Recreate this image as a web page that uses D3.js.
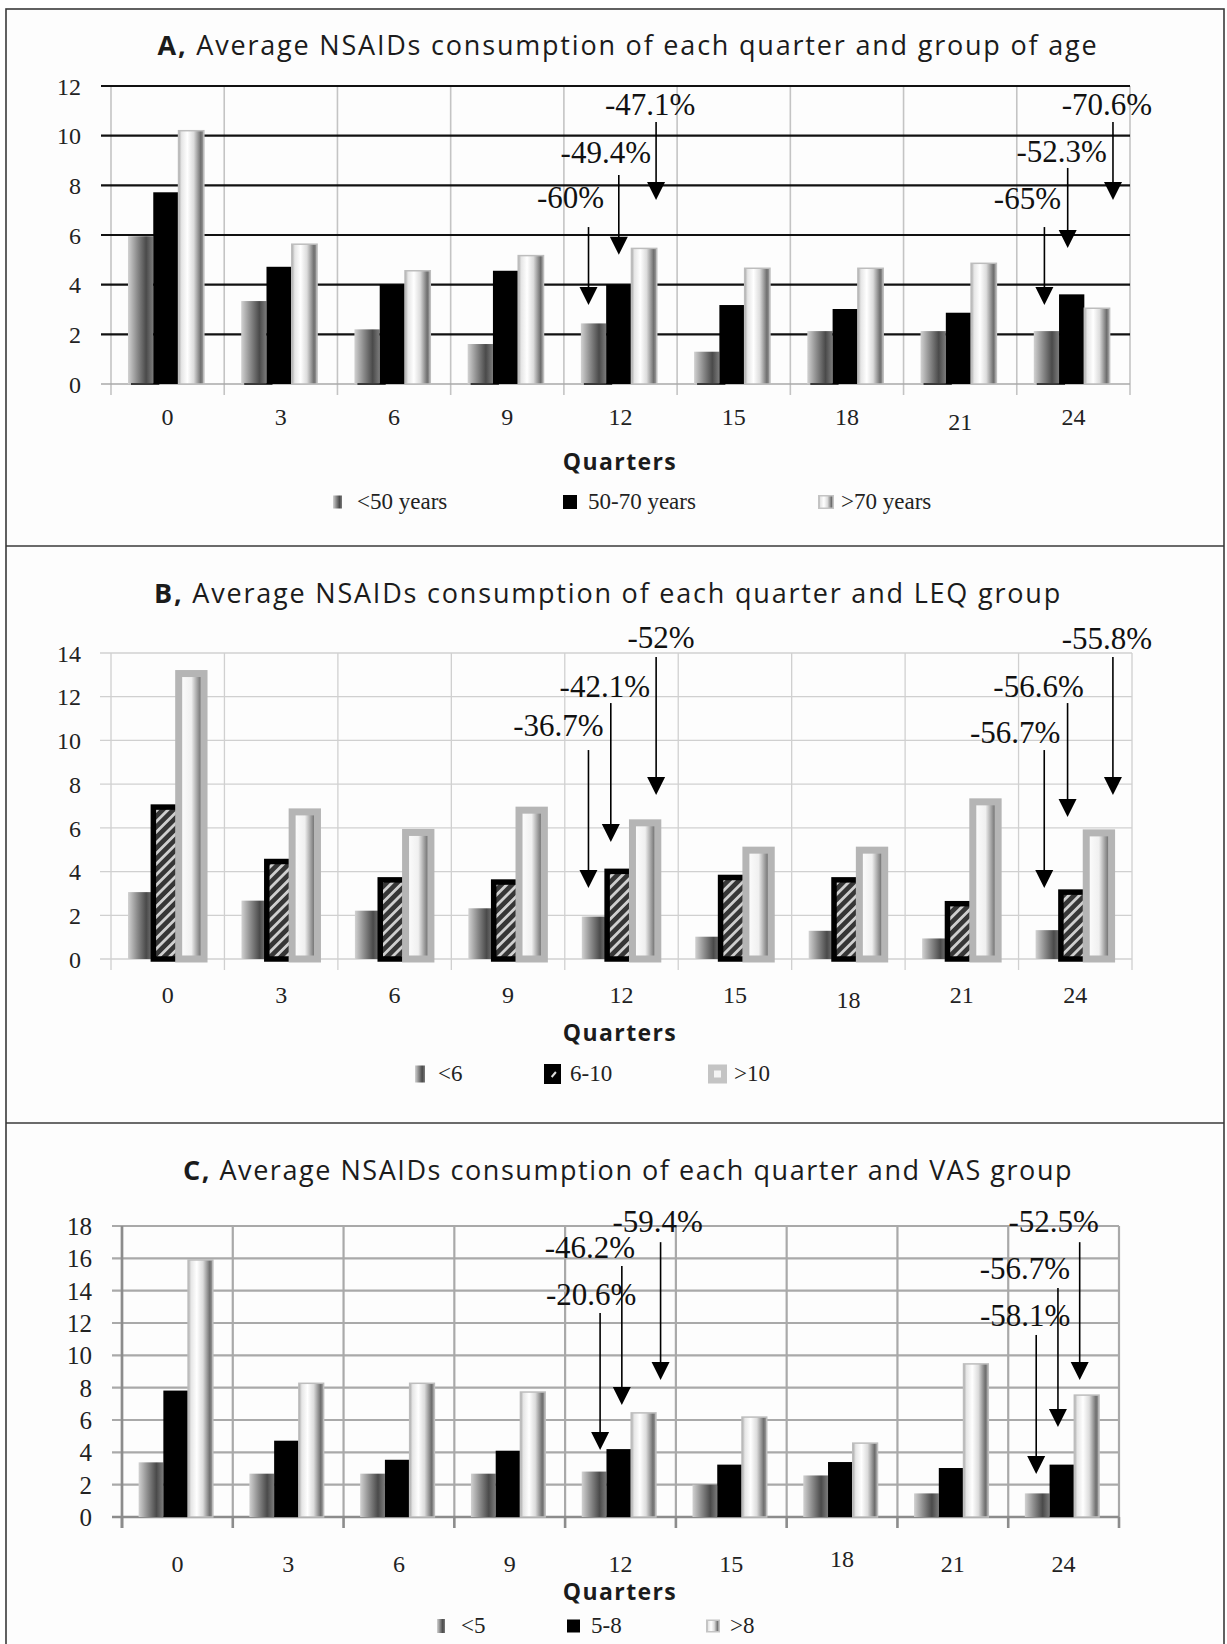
<!DOCTYPE html>
<html><head><meta charset="utf-8">
<script src="https://cdn.jsdelivr.net/npm/d3@7"></script>
<style>
html,body{margin:0;padding:0;background:#fff;}
svg{display:block;}
</style></head>
<body>
<svg id="chart" width="1227" height="1644"></svg>
<script>
// ---------------- data ----------------
const quarters = ["0","3","6","9","12","15","18","21","24"];

const ageLabels  = ["<50 years","50-70 years",">70 years"];
const ageUnder50 = [5.95,3.34,2.20,1.61,2.44,1.30,2.13,2.13,2.13];
const age50to70  = [7.72,4.72,4.01,4.56,4.01,3.18,3.02,2.87,3.61];
const ageOver70  = [10.20,5.63,4.56,5.17,5.46,4.66,4.66,4.86,3.05];
const ageTicks   = [0,2,4,6,8,10,12];
const ageNotes   = ["-60%","-49.4%","-47.1%","-65%","-52.3%","-70.6%"];

const leqLabels = ["<6","6-10",">10"];
const leqUnder6 = [3.06,2.67,2.21,2.32,1.94,1.02,1.29,0.94,1.32];
const leq6to10  = [6.95,4.46,3.62,3.52,4.01,3.73,3.62,2.53,3.06];
const leqOver10 = [13.06,6.73,5.79,6.81,6.23,4.98,4.98,7.19,5.77];
const leqTicks  = [0,2,4,6,8,10,12,14];
const leqNotes  = ["-36.7%","-42.1%","-52%","-56.7%","-56.6%","-55.8%"];

const vasLabels = ["<5","5-8",">8"];
const vasUnder5 = [3.38,2.68,2.68,2.68,2.81,2.00,2.57,1.46,1.46];
const vas5to8   = [7.82,4.72,3.54,4.10,4.20,3.24,3.40,3.03,3.24];
const vasOver8  = [15.90,8.27,8.27,7.73,6.44,6.18,4.57,9.47,7.54];
const vasTicks  = [0,2,4,6,8,10,12,14,16,18];
const vasNotes  = ["-20.6%","-46.2%","-59.4%","-58.1%","-56.7%","-52.5%"];

const noteQuarter = ["12","12","12","24","24","24"];
const noteSeries  = [0,1,2,0,1,2];

// ---------------- layout ----------------
const svg = d3.select("#chart");
const defs = svg.append("defs");

function linGrad(id, stops){
  const g = defs.append("linearGradient").attr("id", id)
    .attr("x1","0").attr("x2","1").attr("y1","0").attr("y2","0");
  stops.forEach(s => g.append("stop").attr("offset", s[0]).attr("stop-color", s[1]));
}
linGrad("gGray",   [[0,"#d2d2d2"],[0.35,"#8e8e8e"],[0.72,"#4a4a4a"],[1,"#7c7c7c"]]);
linGrad("gSilver", [[0,"#a8a8a8"],[0.12,"#e6e6e6"],[0.35,"#ffffff"],[0.6,"#dcdcdc"],[0.88,"#6e6e6e"],[1,"#a2a2a2"]]);
linGrad("gSilverB",[[0,"#ffffff"],[0.5,"#f0f0f0"],[0.85,"#7a7a7a"],[1,"#4e4e4e"]]);
const hatch = defs.append("pattern").attr("id","hatch").attr("patternUnits","userSpaceOnUse")
  .attr("width",7.5).attr("height",7.5).attr("patternTransform","rotate(45)");
hatch.append("rect").attr("width",7.5).attr("height",7.5).attr("fill","#363636");
hatch.append("rect").attr("width",2.8).attr("height",7.5).attr("fill","#cfcfcf");

// frame
svg.append("rect").attr("x",6).attr("y",9).attr("width",1218).attr("height",1660)
  .attr("fill","#fdfdfd").attr("stroke","#3a3a3a").attr("stroke-width",1.6);
[546,1123].forEach(y => svg.append("line").attr("x1",6).attr("x2",1224).attr("y1",y).attr("y2",y)
  .attr("stroke","#3a3a3a").attr("stroke-width",1.6));

const SERIF = "'Liberation Serif','Times New Roman',serif";
const SANS  = "'Open Sans','Noto Sans',sans-serif";

const panels = [
 { letter:"A,", title:" Average NSAIDs consumption of each quarter and group of age", titleX:628, titleY:55, titleLS:1.8,
   left:111, right:1130, top:86, bottom:384, max:12, ticks:ageTicks,
   series:[ageUnder50, age50to70, ageOver70], labels:ageLabels, notes:ageNotes, style:"A",
   yLabelX:81, tickLeft:101, xLabelY:425, xShift:{"21":5}, quartersY:470, legendY:509,
   legSwX:[333,563,818], legTxX:[357,588,841], legSw:[[9,13],[14,14],[16,14]],
   geom:[[-5,-18,7.49,6.32,3.18],[0,-13,9.30,8.42,5.20],[12,-6,11.24,10.55,7.41],
         [-2,-17,7.45,6.32,3.18],[-4,-6,9.34,8.70,5.48],[16,-6,11.24,10.55,7.41]] },
 { letter:"B,", title:" Average NSAIDs consumption of each quarter and LEQ group", titleX:608, titleY:603, titleLS:1.8,
   left:111, right:1132, top:653, bottom:959, max:14, ticks:leqTicks,
   series:[leqUnder6, leq6to10, leqOver10], labels:leqLabels, notes:leqNotes, style:"B",
   yLabelX:81, tickLeft:100, xLabelY:1003, xShift:{"18":5}, quartersY:1041, legendY:1081,
   legSwX:[415,544,708], legTxX:[438,570,734], legSw:[[10,17],[17,20],[19,19]],
   geom:[[-6,-30,10.66,9.56,3.25],[-9,-6,12.44,11.71,5.35],[11,5,14.68,13.82,7.50],
         [-4,-29,10.34,9.56,3.25],[-6,-29,12.44,11.71,6.50],[14,-6,14.64,13.82,7.50]] },
 { letter:"C,", title:" Average NSAIDs consumption of each quarter and VAS group", titleX:628, titleY:1180, titleLS:1.55,
   left:122, right:1119, top:1226, bottom:1517, max:18, ticks:vasTicks,
   series:[vasUnder5, vas5to8, vasOver8], labels:vasLabels, notes:vasNotes, style:"C",
   yLabelX:92, tickLeft:112, xLabelY:1572, xShift:{"18":-5}, quartersY:1600, legendY:1633,
   legSwX:[437,567,706], legTxX:[461,591,730], legSw:[[8,14],[13,13],[14,13]],
   geom:[[6,-9,13.73,12.62,4.14],[3,-32,16.64,15.52,6.93],[17,-3,18.24,17.00,8.47],
         [-1,-11,12.43,11.26,2.66],[-4,-33,15.34,14.16,5.57],[-7,-26,18.24,17.00,8.47]] }
];

panels.forEach(p => {
  const g = svg.append("g");
  const x0 = d3.scaleBand().domain(quarters).range([p.left, p.right]).padding(0);
  const bw = x0.bandwidth();
  const x1 = d3.scaleBand().domain([0,1,2]).range([0.15*bw, 0.82*bw]).padding(0);
  const y = d3.scaleLinear().domain([0, p.max]).range([p.bottom, p.top]);

  // title
  const t = g.append("text").attr("x", p.titleX).attr("y", p.titleY).attr("text-anchor","middle")
    .attr("font-family", SANS).attr("font-size", 27).attr("letter-spacing", p.titleLS + "px").attr("fill","#1b1b1b");
  t.append("tspan").attr("font-weight","bold").text(p.letter);
  t.append("tspan").text(p.title);

  // grid
  const boundaries = quarters.map(q => x0(q)).concat([p.right]);
  let hCol, hW, vCol, vW;
  if (p.style === "A") { hCol="#111"; hW=2.2; vCol="#c4c4c4"; vW=1.6; }
  else if (p.style === "B") { hCol="#d0d0d0"; hW=1.3; vCol="#d0d0d0"; vW=1.3; }
  else { hCol="#a9a9a9"; hW=2.2; vCol="#a9a9a9"; vW=2.2; }

  g.selectAll(".vg").data(boundaries).join("line")
    .attr("x1", d => d).attr("x2", d => d)
    .attr("y1", p.top).attr("y2", p.style === "C" ? p.bottom : p.bottom + 11)
    .attr("stroke", vCol).attr("stroke-width", vW);
  g.selectAll(".hg").data(p.ticks).join("line")
    .attr("x1", p.tickLeft).attr("x2", p.right)
    .attr("y1", d => y(d)).attr("y2", d => y(d))
    .attr("stroke", d => (d === 0 && p.style === "A") ? "#a8a8a8" : hCol)
    .attr("stroke-width", d => (d === 0 && p.style === "A") ? 1.6 : hW);

  if (p.style === "C") {
    g.append("line").attr("x1", p.left).attr("x2", p.left).attr("y1", p.top).attr("y2", p.bottom+11)
      .attr("stroke","#8c8c8c").attr("stroke-width",2.6);
    g.append("line").attr("x1", p.tickLeft).attr("x2", p.right).attr("y1", p.bottom).attr("y2", p.bottom)
      .attr("stroke","#8c8c8c").attr("stroke-width",2.6);
    g.selectAll(".xt").data(boundaries).join("line")
      .attr("x1", d => d).attr("x2", d => d).attr("y1", p.bottom).attr("y2", p.bottom + 11)
      .attr("stroke","#8c8c8c").attr("stroke-width",2.6);
  }

  // bars
  p.series.forEach((arr, si) => {
    const bars = g.selectAll(".b"+si).data(arr).join("rect")
      .attr("x", (d,i) => x0(quarters[i]) + x1(si))
      .attr("width", x1.bandwidth())
      .attr("y", d => y(d))
      .attr("height", d => y(0) - y(d));
    if (si === 0) {
      bars.attr("fill","url(#gGray)");
    } else if (si === 1) {
      if (p.style === "B") bars.attr("fill","url(#hatch)").attr("stroke","#000").attr("stroke-width",5.5);
      else bars.attr("fill","#000");
    } else {
      if (p.style === "B") bars.attr("fill","url(#gSilverB)").attr("stroke","#b5b5b5").attr("stroke-width",7);
      else bars.attr("fill","url(#gSilver)").attr("stroke","#bdbdbd").attr("stroke-width",1.5);
    }
    if (si === 0 && p.style === "A") {
      g.selectAll(".bl").data(arr).join("line")
        .attr("x1", (d,i) => x0(quarters[i]) + x1(0) + 3)
        .attr("x2", (d,i) => x0(quarters[i]) + x1(0) + x1.bandwidth() + 6)
        .attr("y1", y(0)).attr("y2", y(0)).attr("stroke","#3a3a3a").attr("stroke-width",2);
    }
  });

  // y axis labels
  const ya = d3.axisLeft(y).tickValues(p.ticks).tickSize(0).tickPadding(0).tickFormat(d3.format("d"));
  const yg = g.append("g").attr("transform", `translate(${p.yLabelX},0)`).call(ya);
  yg.select(".domain").remove();
  yg.selectAll("text").attr("font-family", SERIF).attr("font-size", p.style === "C" ? 25 : 24)
    .attr("fill","#222").attr("dy","0.34em");

  // x axis labels
  const xa = d3.axisBottom(x0).tickSize(0).tickPadding(0);
  const xg = g.append("g").attr("transform", `translate(0,${p.xLabelY})`).call(xa);
  xg.select(".domain").remove();
  xg.selectAll("text").attr("font-family", SERIF).attr("font-size", 24).attr("fill","#222")
    .attr("dy", null).attr("y", d => (p.xShift[d] || 0));

  // axis title
  g.append("text").attr("x", 620).attr("y", p.quartersY).attr("text-anchor","middle")
    .attr("font-family", SANS).attr("font-weight","bold").attr("font-size",23)
    .attr("letter-spacing","1.4px").attr("fill","#1b1b1b").text("Quarters");

  // legend
  p.labels.forEach((lab, i) => {
    const [w,h] = p.legSw[i];
    const sx = p.legSwX[i], sy = p.legendY - 7 - h/2;
    if (i === 0) {
      g.append("rect").attr("x",sx).attr("y",sy).attr("width",w).attr("height",h).attr("fill","url(#gGray)");
    } else if (i === 1) {
      g.append("rect").attr("x",sx).attr("y",sy).attr("width",w).attr("height",h).attr("fill","#000");
      if (p.style === "B") g.append("line").attr("x1",sx+w*0.45).attr("x2",sx+w*0.7)
        .attr("y1",sy+h*0.65).attr("y2",sy+h*0.4).attr("stroke","#ddd").attr("stroke-width",2);
    } else {
      if (p.style === "B") {
        g.append("rect").attr("x",sx).attr("y",sy).attr("width",w).attr("height",h).attr("fill","#c4c4c4");
        g.append("rect").attr("x",sx+6).attr("y",sy+6).attr("width",w-12).attr("height",h-12).attr("fill","#f4f4f4");
      } else {
        g.append("rect").attr("x",sx+0.75).attr("y",sy+0.75).attr("width",w-1.5).attr("height",h-1.5)
          .attr("fill","url(#gSilver)").attr("stroke","#c4c4c4").attr("stroke-width",1.5);
      }
    }
    g.append("text").attr("x", p.legTxX[i]).attr("y", p.legendY).attr("font-family", SERIF)
      .attr("font-size", 23).attr("fill","#222").text(lab);
  });

  // annotations
  p.notes.forEach((txt, k) => {
    const [adx, ldx, lv, fv, tv] = p.geom[k];
    const bx = x0(noteQuarter[k]) + x1(noteSeries[k]) + x1.bandwidth()/2;
    const ax = bx + adx;
    const tipY = y(tv);
    g.append("line").attr("x1", ax).attr("x2", ax).attr("y1", y(fv)).attr("y2", tipY - 10)
      .attr("stroke","#000").attr("stroke-width",1.6);
    g.append("path").attr("d", `M${ax-9},${tipY-18} L${ax+9},${tipY-18} L${ax},${tipY} Z`).attr("fill","#000");
    g.append("text").attr("x", ax + ldx).attr("y", y(lv) + 10).attr("text-anchor","middle")
      .attr("font-family", SERIF).attr("font-size", 31).attr("fill","#111").text(txt);
  });
});
</script>
</body></html>
